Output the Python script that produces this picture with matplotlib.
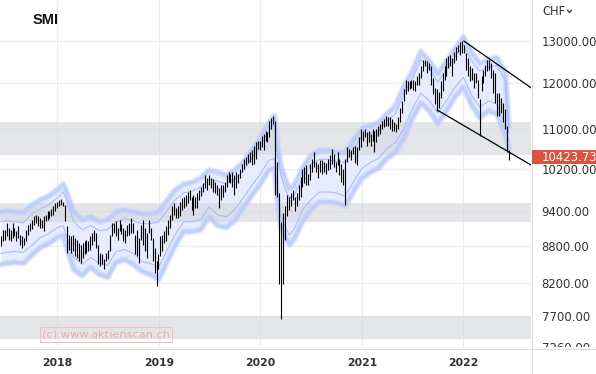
import matplotlib
matplotlib.use("Agg")
import matplotlib.pyplot as plt
import numpy as np
import pandas as pd
from matplotlib.transforms import Bbox, TransformedBbox, blended_transform_factory
from matplotlib.lines import Line2D
from matplotlib.patches import Rectangle
from matplotlib.ticker import NullLocator, NullFormatter, FuncFormatter

# ---------------- data ----------------
title = "SMI"
currency = "CHF"
last_close = 10423.73
watermark = "(c) www.aktienscan.ch"
last_bar_date = "2022-06-13"

bar_high = [
    8967, 9081, 9081, 9196, 9110, 9081, 9196, 9110, 9052, 9138,
    8995, 8967, 8939, 9081, 9167, 9196, 9250, 9313, 9342, 9313,
    9283, 9254, 9313, 9342, 9400, 9400, 9442, 9490, 9550, 9580,
    9610, 9620, 9580, 9519, 9138, 8995, 8967, 8995, 8939, 8911,
    8855, 8827, 8855, 8883, 8911, 8883, 8967, 9024, 9081, 9024,
    8827, 8689, 8662, 8580, 8689, 8744, 8995, 9196, 9196, 9225,
    9110, 9254, 9180, 9110, 9081, 9167, 9196, 9283, 9196, 8995,
    9081, 8939, 9167, 9254, 9110, 9024, 9254, 9110, 8939, 8772,
    8553, 8662, 8967, 8995, 9052, 9138, 9254, 9342, 9490, 9550,
    9460, 9490, 9580, 9640, 9670, 9700, 9761, 9792, 9670, 9700,
    9670, 9730, 9792, 9850, 9915, 10072, 10009, 10072, 10009, 9990,
    9946, 9884, 9822, 9884, 9884, 9946, 10072, 10135, 10103, 10135,
    10072, 10135, 10103, 10200, 10296, 10393, 10426, 10480, 10525, 10558,
    10657, 10724, 10758, 10758, 10860, 10894, 10962, 10928, 11170, 11230,
    11276, 11170, 10330, 9730, 9220, 9370, 9500, 9700, 9670, 9730,
    9792, 9670, 9730, 9884, 10040, 10200, 10232, 10264, 10103, 10296,
    10393, 10525, 10328, 10296, 10360, 10360, 10328, 10300, 10393, 10459,
    10590, 10490, 10328, 10525, 10393, 10296, 10200, 10393, 10624, 10590,
    10558, 10624, 10640, 10624, 10826, 10997, 10962, 10997, 10928, 10962,
    10894, 10997, 10962, 10997, 11050, 11101, 11170, 11206, 11276, 11241,
    11241, 11206, 11135, 11101, 11241, 11454, 11599, 11856, 12081, 12044,
    12058, 12081, 12060, 12044, 12157, 12234, 12389, 12546, 12546, 12506,
    12467, 12389, 12119, 11893, 11856, 11800, 12044, 12234, 12389, 12585,
    12624, 12664, 12585, 12743, 12864, 12905, 12980, 12997, 12905, 12703,
    12585, 12389, 12350, 12234, 12234, 12081, 11636, 12157, 12311, 12428,
    12546, 12546, 12467, 12311, 12234, 11782, 11782, 11672, 11563, 11418,
    11066, 10558,
]
bar_low = [
    8800, 8883, 8911, 8967, 8911, 8883, 8939, 8967, 8883, 8939,
    8827, 8772, 8827, 8883, 8995, 9052, 9100, 9167, 9196, 9138,
    9110, 9110, 9052, 9225, 9254, 9283, 9313, 9342, 9400, 9460,
    9490, 9519, 9490, 9225, 8689, 8744, 8689, 8717, 8634, 8607,
    8553, 8526, 8607, 8662, 8689, 8717, 8744, 8827, 8883, 8772,
    8500, 8473, 8500, 8420, 8553, 8580, 8717, 8967, 9024, 8967,
    8911, 9052, 9000, 8883, 8855, 8967, 8995, 9024, 9024, 8662,
    8634, 8526, 8911, 8827, 8717, 8607, 9024, 8911, 8553, 8368,
    8160, 8420, 8634, 8717, 8855, 8883, 8995, 9110, 9254, 9342,
    9283, 9283, 9313, 9430, 9460, 9490, 9550, 9610, 9430, 9342,
    9460, 9460, 9610, 9680, 9761, 9822, 9792, 9884, 9822, 9761,
    9730, 9700, 9460, 9610, 9670, 9761, 9853, 9946, 9915, 9853,
    9700, 9822, 9915, 10009, 10135, 10200, 10264, 10300, 10328, 10264,
    10296, 10393, 10590, 10558, 10624, 10558, 10758, 10724, 10830, 11000,
    11100, 9700, 9670, 8185, 7667, 8185, 8900, 9313, 9430, 9490,
    9610, 9400, 9490, 9610, 9670, 9853, 9915, 9884, 9884, 9978,
    10135, 10232, 10135, 10009, 10135, 10103, 10135, 10100, 10167, 10200,
    10296, 10232, 10135, 10264, 10072, 9946, 9884, 9519, 10328, 10426,
    10360, 10490, 10300, 10264, 10558, 10624, 10741, 10826, 10657, 10724,
    10657, 10758, 10525, 10724, 10850, 10894, 10997, 11031, 11066, 11066,
    10997, 10962, 10962, 10928, 10997, 11135, 11346, 11599, 11745, 11819,
    11856, 11893, 11850, 11819, 11968, 11968, 12119, 12272, 12389, 12234,
    12311, 11968, 11745, 11527, 11382, 11450, 11672, 11819, 12081, 12157,
    12350, 12389, 12157, 12467, 12546, 12743, 12664, 12703, 12703, 12311,
    12157, 12044, 12081, 11893, 12006, 11672, 10860, 11819, 12006, 12157,
    12270, 12311, 12119, 11782, 11563, 11276, 11276, 11346, 11135, 10997,
    10525, 10360,
]

band_dates = [
    "2017-06-12", "2017-07-01", "2017-08-01", "2017-09-01", "2017-10-01", "2017-11-01", "2017-12-01",
    "2018-01-01", "2018-01-22", "2018-02-01", "2018-03-01", "2018-04-01", "2018-05-01", "2018-06-01",
    "2018-07-01", "2018-08-01", "2018-09-01", "2018-10-01", "2018-11-01", "2018-12-01",
    "2019-01-01", "2019-02-01", "2019-03-01", "2019-04-01", "2019-05-01", "2019-06-01",
    "2019-07-01", "2019-08-01", "2019-09-01", "2019-10-01", "2019-11-01", "2019-12-01",
    "2020-01-01", "2020-02-01", "2020-02-21", "2020-03-01", "2020-03-15", "2020-04-01", "2020-04-15",
    "2020-05-01", "2020-06-01", "2020-07-01", "2020-08-01", "2020-09-01", "2020-10-01", "2020-11-01",
    "2020-12-01",
    "2021-01-01", "2021-02-01", "2021-03-01", "2021-04-01", "2021-05-01", "2021-06-01",
    "2021-07-01", "2021-08-01", "2021-09-01", "2021-10-01", "2021-11-01", "2021-12-01",
    "2022-01-01", "2022-02-01", "2022-03-01", "2022-04-01", "2022-05-01", "2022-06-01", "2022-06-13",
]
band_upper_outer = [
    9395, 9412, 9395, 9377, 9519, 9610, 9682,
    9792, 9903, 9792, 9395, 9254, 9307, 9219, 9254, 9395, 9430, 9395, 9360, 9360,
    9395, 9610, 9792, 9903, 9940, 10015, 10167, 10129, 10072, 10167, 10322, 10558,
    10799, 11128, 11276, 10758, 10264, 9978, 9829, 9866, 10206, 10459, 10558, 10558, 10518, 10518, 10758,
    11004, 11066, 11128, 11318, 11490, 11931, 12272, 12743, 12506, 12226, 12506, 12800,
    13100, 12710, 12460, 12550, 12600, 12250, 11066,
]
band_upper_inner = [
    9219, 9237, 9219, 9202, 9360, 9448, 9519,
    9646, 9755, 9646, 9219, 9081, 9150, 9064, 9081, 9219, 9272, 9237, 9184, 9184,
    9219, 9430, 9610, 9737, 9774, 9847, 9996, 9959, 9903, 9996, 10148, 10400,
    10637, 10962, 11087, 10558, 10072, 9792, 9646, 9682, 10015, 10283, 10380, 10380, 10341, 10322, 10597,
    10840, 10901, 10962, 11149, 11318, 11753, 12089, 12550, 12319, 12021, 12319, 12600,
    12900, 12506, 12272, 12366, 12413, 12044, 10920,
]
band_lower_inner = [
    8678, 8695, 8711, 8695, 8811, 8945, 9012,
    9115, 9150, 8995, 8613, 8500, 8613, 8516, 8484, 8711, 8744, 8678, 8548, 8516,
    8452, 8744, 8995, 9219, 9219, 9254, 9484, 9342, 9307, 9430, 9646, 9866,
    10091, 10360, 10400, 9884, 9342, 9115, 8995, 9081, 9430, 9610, 9755, 9755, 9737, 9682, 9940,
    10206, 10322, 10400, 10597, 10718, 11004, 11425, 11775, 11599, 11339, 11599, 11908,
    12134, 11708, 11469, 11599, 11534, 11066, 10758,
]
band_lower_outer = [
    8500, 8516, 8532, 8516, 8646, 8777, 8844,
    8945, 8978, 8811, 8420, 8325, 8452, 8341, 8294, 8532, 8580, 8500, 8388, 8341,
    8262, 8548, 8811, 9047, 9047, 9081, 9307, 9150, 9115, 9237, 9466, 9682,
    9903, 10167, 10206, 9682, 9150, 8945, 8827, 8911, 9219, 9430, 9574, 9574, 9556, 9501, 9755,
    10015, 10129, 10206, 10400, 10518, 10799, 11212, 11555, 11382, 11108, 11382, 11686,
    11908, 11490, 11233, 11382, 11318, 10860, 10600,
]

zone_low = [10466, 9219, 7376]
zone_high = [11150, 9559, 7706]

channel_upper_dates = ["2022-01-03", "2022-09-01"]
channel_upper_values = [12997, 11895]
channel_lower_dates = ["2021-09-29", "2022-09-01"]
channel_lower_values = [11400, 10269]

price_ticks = [13000, 12000, 11000, 10200, 9400, 8800, 8200, 7700, 7260]
year_ticks = [2018, 2019, 2020, 2021, 2022]

# ---------------- figure ----------------
W, H = 596, 374
fig = plt.figure(figsize=(W / 100, H / 100), dpi=100)
fig.patch.set_facecolor("white")
ax_h = 347.3
ax_w = 531.0
ax = fig.add_axes([0, (H - ax_h) / H, ax_w / W, ax_h / H])

dates = pd.date_range(end=last_bar_date, periods=len(bar_high), freq="W-MON")
bdates = pd.to_datetime(band_dates)

ax.set_yscale("log")
ax.set_ylim(7260, 14055)
ax.set_xlim(pd.Timestamp("2017-06-09"), pd.Timestamp("2022-09-01"))

for s in ax.spines.values():
    s.set_visible(False)

ax.yaxis.set_minor_locator(NullLocator())
ax.yaxis.set_minor_formatter(NullFormatter())
ax.set_yticks(price_ticks)
ax.yaxis.set_major_formatter(FuncFormatter(lambda v, p: f"{v:.2f}"))
ax.yaxis.tick_right()
ax.tick_params(axis="y", length=0, pad=7.6, labelsize=8.4, labelcolor="#333333")

ax.set_xticks([pd.Timestamp(f"{y}-01-01") for y in year_ticks])
ax.set_xticklabels([str(y) for y in year_ticks], fontweight="bold")
ax.tick_params(axis="x", length=0, pad=8.0, labelsize=7.8, labelcolor="#333333")
ax.xaxis.set_minor_locator(NullLocator())

ax.grid(True, color="#ececec", lw=0.8, zorder=0)
ax.set_axisbelow(True)

# band
ax.fill_between(bdates, band_lower_outer, band_upper_outer, color="#e6ecfe", lw=0, zorder=1)
for zl, zh in zip(zone_low, zone_high):
    ax.axhspan(zl, zh, color="#d3d5da", alpha=0.6, lw=0, zorder=2)
for arr in (band_upper_outer, band_lower_outer):
    ax.plot(bdates, arr, color="#bfcdfb", lw=5.0, alpha=0.35, zorder=3,
            solid_capstyle="round", solid_joinstyle="round")
    ax.plot(bdates, arr, color="#b8c8fb", lw=2.8, alpha=0.75, zorder=3,
            solid_capstyle="round", solid_joinstyle="round")
for arr in (band_upper_inner, band_lower_inner):
    ax.plot(bdates, arr, color="#a9bcf7", lw=0.8, zorder=3)

# bars
ax.vlines(dates, bar_low, bar_high, color="black", lw=0.8, zorder=5)

# channel
ax.plot(pd.to_datetime(channel_upper_dates), channel_upper_values, color="black", lw=0.9, zorder=6)
ax.plot(pd.to_datetime(channel_lower_dates), channel_lower_values, color="black", lw=0.9, zorder=6)

# clip y tick labels at the plot bottom
clipbox = TransformedBbox(Bbox([[0, (H - ax_h) / H], [1, 1]]), fig.transFigure)
for t in ax.yaxis.get_major_ticks():
    t.label2.set_clip_box(clipbox)
    t.label2.set_clip_on(True)

# separators
fig.add_artist(Line2D([531.5 / W, 531.5 / W], [0, 1], transform=fig.transFigure,
                      color="#dcdcdc", lw=0.8))
fig.add_artist(Line2D([0, 1], [(H - 349.3) / H, (H - 349.3) / H], transform=fig.transFigure,
                      color="#dcdcdc", lw=0.8))

# last price label
bt = blended_transform_factory(fig.transFigure, ax.transData)
box_half = 1.0141
fig.add_artist(Rectangle((531.5 / W, last_close / box_half), 70 / W,
                         last_close * box_half - last_close / box_half,
                         transform=bt, facecolor="#d9533f", edgecolor="none", zorder=10))
fig.add_artist(plt.Text(542 / W, last_close, f"{last_close:.2f}", transform=bt,
                        color="white", fontsize=8.4, va="center", ha="left", zorder=11))

# header texts
fig.text(33 / W, 1 - 20.5 / H, title, fontsize=10.5, fontweight="bold",
         family="Liberation Sans", va="center", ha="left", color="#111111")
fig.text(542 / W, 1 - 11.7 / H, currency, fontsize=8.3, va="center", ha="left", color="#333333")
fig.add_artist(Line2D([567.5 / W, 569.5 / W, 571.5 / W],
                      [1 - 10.3 / H, 1 - 12.6 / H, 1 - 10.3 / H],
                      transform=fig.transFigure, color="#333333", lw=0.9))

# watermark
fig.text(106 / W, 1 - 334.7 / H, watermark, fontsize=8.2, color="#f0a8a8",
         va="center", ha="center",
         bbox=dict(boxstyle="square,pad=0.2", fc="none", ec="#f4bcbc", lw=0.8))

fig.savefig("out.png", dpi=100)
